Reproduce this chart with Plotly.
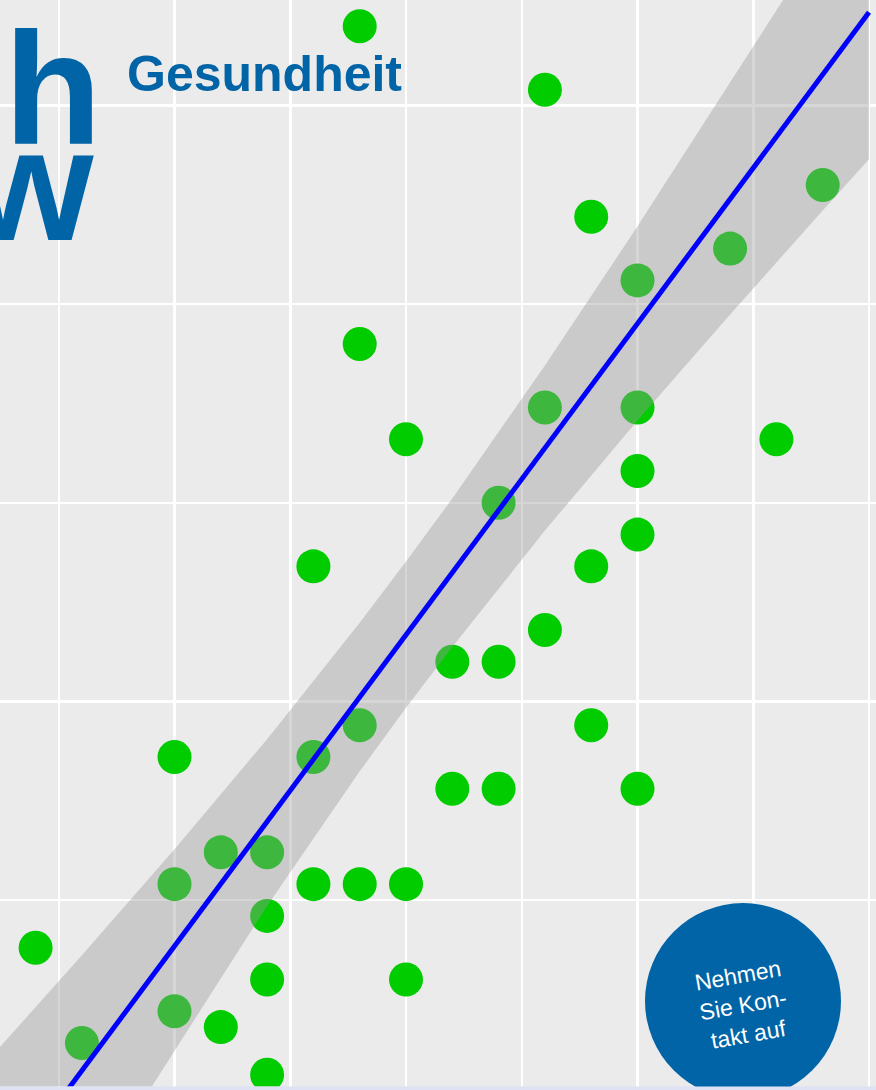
import plotly.graph_objects as go

W, H = 876, 1090

# ---- data ----
x_vals = [3.8, 4.6, 5.8, 4.8, 5.4, 5.0, 3.8, 4.6, 5.0, 4.0,
          5.6, 5.0, 4.4, 5.0, 3.6, 4.8, 4.6, 4.2, 4.4, 3.8,
          4.8, 3.0, 3.6, 4.2, 4.4, 5.0, 3.2, 3.4, 3.0, 3.6,
          3.8, 4.0, 3.4, 2.4, 3.4, 4.0, 3.0, 3.2, 2.6, 3.4]
y_vals = [4.20, 4.04, 3.80, 3.72, 3.64, 3.56, 3.40, 3.24, 3.24, 3.16,
          3.16, 3.08, 3.00, 2.92, 2.84, 2.84, 2.68, 2.60, 2.60, 2.44,
          2.44, 2.36, 2.36, 2.28, 2.28, 2.28, 2.12, 2.12, 2.04, 2.04,
          2.04, 2.04, 1.96, 1.88, 1.80, 1.80, 1.72, 1.68, 1.64, 1.56]

# fitted line (lm) end points
fit_x = [2.2, 6.0]
fit_y = [1.257, 4.235]

# confidence band edges
band_x = [2.2, 2.6, 3.0, 3.4, 3.8, 4.0, 4.2, 4.6, 5.0, 5.4, 5.8, 6.0]
band_lo = [0.890, 1.255, 1.620, 1.985, 2.324, 2.484, 2.637, 2.930, 3.207, 3.474, 3.736, 3.865]
band_hi = [1.600, 1.861, 2.128, 2.405, 2.698, 2.852, 3.011, 3.346, 3.696, 4.056, 4.421, 4.605]

x_range = [2.2462, 6.0302]
y_range = [1.5305, 4.2659]

fig = go.Figure()

fig.add_trace(go.Scatter(
    x=x_vals, y=y_vals, mode="markers",
    marker=dict(size=34, color="#00CC00", line=dict(width=0)),
    hoverinfo="skip", showlegend=False))

fig.add_trace(go.Scatter(
    x=band_x, y=band_lo, mode="lines", line=dict(width=0, color="rgba(0,0,0,0)"),
    hoverinfo="skip", showlegend=False))
fig.add_trace(go.Scatter(
    x=band_x, y=band_hi, mode="lines", line=dict(width=0, color="rgba(0,0,0,0)"),
    fill="tonexty", fillcolor="rgba(153,153,153,0.4)",
    hoverinfo="skip", showlegend=False))

fig.add_trace(go.Scatter(
    x=fit_x, y=fit_y, mode="lines", line=dict(width=5, color="#0000FF"),
    hoverinfo="skip", showlegend=False))

def px(xp):
    return xp / W

def py(yp):
    return 1 - yp / H

blue = "#0064A6"

fig.update_layout(
    width=W, height=H,
    margin=dict(l=0, r=0, t=0, b=0),
    paper_bgcolor="#DFE2F4",
    plot_bgcolor="#EBEBEB",
    showlegend=False,
    hovermode=False,
    xaxis=dict(range=x_range, showticklabels=False, ticks="", showline=False,
               zeroline=False, showgrid=True, gridcolor="#FFFFFF", gridwidth=2.5,
               tick0=2.5, dtick=0.5, domain=[0, 1], fixedrange=True),
    yaxis=dict(range=y_range, showticklabels=False, ticks="", showline=False,
               zeroline=False, showgrid=True, gridcolor="#FFFFFF", gridwidth=2.5,
               tick0=2.0, dtick=0.5, domain=[3.5 / H, 1], fixedrange=True),
    shapes=[
        dict(type="circle", xref="paper", yref="paper",
             x0=px(645), x1=px(841), y0=py(1099), y1=py(903),
             fillcolor=blue, line=dict(width=0), layer="above"),
        dict(type="rect", xref="paper", yref="paper",
             x0=0, x1=1, y0=py(1095), y1=py(1086.5),
             fillcolor="#DFE2F4", line=dict(width=0), layer="above"),
    ],
    annotations=[
        dict(text="<b>zh</b>", xref="paper", yref="paper", x=px(104), y=py(180),
             xanchor="right", yanchor="bottom", showarrow=False,
             font=dict(family="Liberation Sans", size=160, color=blue)),
        dict(text="<b>aw</b>", xref="paper", yref="paper", x=px(96), y=py(276),
             xanchor="right", yanchor="bottom", showarrow=False,
             font=dict(family="Liberation Sans", size=160, color=blue)),
        dict(text="<b>Gesundheit</b>", xref="paper", yref="paper", x=px(125), y=py(104),
             xanchor="left", yanchor="bottom", showarrow=False,
             font=dict(family="Liberation Sans", size=50, color=blue)),
        dict(text="Nehmen<br>Sie Kon-<br>takt auf", xref="paper", yref="paper",
             x=px(743), y=py(1005), xanchor="center", yanchor="middle",
             showarrow=False, align="center", textangle=-10,
             font=dict(family="Liberation Sans", size=23, color="#FFFFFF")),
    ],
)

fig.write_html(
    "out.html",
    config={"displayModeBar": False, "staticPlot": True},
    post_script="document.body.style.margin='0';document.body.style.padding='0';"
                "document.body.style.overflow='hidden';",
)
